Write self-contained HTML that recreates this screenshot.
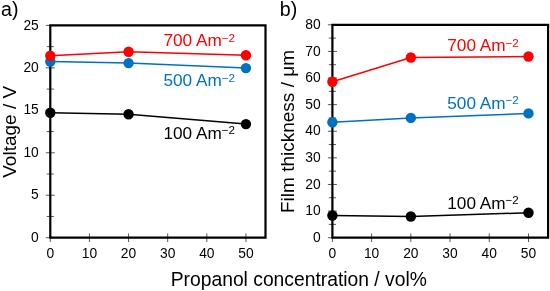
<!DOCTYPE html>
<html><head><meta charset="utf-8"><style>
html,body{margin:0;padding:0;background:#fff;}
svg{display:block;will-change:transform;font-family:"Liberation Sans",sans-serif;}
</style></head><body>
<svg width="550" height="291" viewBox="0 0 550 291">
<rect width="550" height="291" fill="#fff"/>
<text x="1.0" y="16.0" font-size="19.6">a)</text>
<text x="279.8" y="15.9" font-size="19.6">b)</text>
<text transform="translate(16,131.8) rotate(-90)" text-anchor="middle" font-size="19">Voltage / V</text>
<text transform="translate(294,131.5) rotate(-90)" text-anchor="middle" font-size="19">Film thickness / μm</text>
<text x="298.8" y="285.6" text-anchor="middle" font-size="19.3">Propanol concentration / vol%</text>
<line x1="45.80" y1="237.70" x2="54.80" y2="237.70" stroke="#5a5a5a" stroke-width="1"/>
<text x="38.8" y="241.80" text-anchor="end" font-size="13.8">0</text>
<line x1="46.70" y1="216.47" x2="53.90" y2="216.47" stroke="#5a5a5a" stroke-width="1"/>
<line x1="45.80" y1="195.24" x2="54.80" y2="195.24" stroke="#5a5a5a" stroke-width="1"/>
<text x="38.8" y="199.34" text-anchor="end" font-size="13.8">5</text>
<line x1="46.70" y1="174.01" x2="53.90" y2="174.01" stroke="#5a5a5a" stroke-width="1"/>
<line x1="45.80" y1="152.78" x2="54.80" y2="152.78" stroke="#5a5a5a" stroke-width="1"/>
<text x="38.8" y="156.88" text-anchor="end" font-size="13.8">10</text>
<line x1="46.70" y1="131.55" x2="53.90" y2="131.55" stroke="#5a5a5a" stroke-width="1"/>
<line x1="45.80" y1="110.32" x2="54.80" y2="110.32" stroke="#5a5a5a" stroke-width="1"/>
<text x="38.8" y="114.42" text-anchor="end" font-size="13.8">15</text>
<line x1="46.70" y1="89.09" x2="53.90" y2="89.09" stroke="#5a5a5a" stroke-width="1"/>
<line x1="45.80" y1="67.86" x2="54.80" y2="67.86" stroke="#5a5a5a" stroke-width="1"/>
<text x="38.8" y="71.96" text-anchor="end" font-size="13.8">20</text>
<line x1="46.70" y1="46.63" x2="53.90" y2="46.63" stroke="#5a5a5a" stroke-width="1"/>
<line x1="45.80" y1="25.40" x2="54.80" y2="25.40" stroke="#5a5a5a" stroke-width="1"/>
<text x="38.8" y="29.50" text-anchor="end" font-size="13.8">25</text>
<line x1="50.30" y1="233.40" x2="50.30" y2="242.00" stroke="#5a5a5a" stroke-width="1"/>
<text x="50.30" y="257.80" text-anchor="middle" font-size="13.8">0</text>
<line x1="89.43" y1="233.40" x2="89.43" y2="242.00" stroke="#5a5a5a" stroke-width="1"/>
<text x="89.43" y="257.80" text-anchor="middle" font-size="13.8">10</text>
<line x1="128.55" y1="233.40" x2="128.55" y2="242.00" stroke="#5a5a5a" stroke-width="1"/>
<text x="128.55" y="257.80" text-anchor="middle" font-size="13.8">20</text>
<line x1="167.68" y1="233.40" x2="167.68" y2="242.00" stroke="#5a5a5a" stroke-width="1"/>
<text x="167.68" y="257.80" text-anchor="middle" font-size="13.8">30</text>
<line x1="206.81" y1="233.40" x2="206.81" y2="242.00" stroke="#5a5a5a" stroke-width="1"/>
<text x="206.81" y="257.80" text-anchor="middle" font-size="13.8">40</text>
<line x1="245.94" y1="233.40" x2="245.94" y2="242.00" stroke="#5a5a5a" stroke-width="1"/>
<text x="245.94" y="257.80" text-anchor="middle" font-size="13.8">50</text>
<path d="M50.30 25.40 H265.50 V237.70 H50.30 Z" fill="none" stroke="#000" stroke-width="2.2"/>
<path d="M50.30 112.70 L128.55 114.23 L245.94 124.08" fill="none" stroke="#000000" stroke-width="1.5"/>
<path d="M50.30 61.49 L128.55 63.10 L245.94 68.11" fill="none" stroke="#0070C0" stroke-width="1.5"/>
<path d="M50.30 55.72 L128.55 51.73 L245.94 55.29" fill="none" stroke="#FF0000" stroke-width="1.5"/>
<circle cx="50.30" cy="112.70" r="5.2" fill="#000000"/>
<circle cx="128.55" cy="114.23" r="5.2" fill="#000000"/>
<circle cx="245.94" cy="124.08" r="5.2" fill="#000000"/>
<circle cx="50.30" cy="61.49" r="5.2" fill="#0070C0"/>
<circle cx="128.55" cy="63.10" r="5.2" fill="#0070C0"/>
<circle cx="245.94" cy="68.11" r="5.2" fill="#0070C0"/>
<circle cx="50.30" cy="55.72" r="5.2" fill="#FF0000"/>
<circle cx="128.55" cy="51.73" r="5.2" fill="#FF0000"/>
<circle cx="245.94" cy="55.29" r="5.2" fill="#FF0000"/>
<text x="163.5" y="46.1" fill="#FF0000" font-size="17.2">700 Am<tspan font-size="11.6" dy="-4.4">−2</tspan></text>
<text x="163.5" y="86.3" fill="#0070C0" font-size="17.2">500 Am<tspan font-size="11.6" dy="-4.4">−2</tspan></text>
<text x="163.5" y="138.8" fill="#000000" font-size="17.2">100 Am<tspan font-size="11.6" dy="-4.4">−2</tspan></text>
<line x1="327.90" y1="237.70" x2="336.90" y2="237.70" stroke="#5a5a5a" stroke-width="1"/>
<text x="320.6" y="241.80" text-anchor="end" font-size="13.8">0</text>
<line x1="328.80" y1="224.39" x2="336.00" y2="224.39" stroke="#5a5a5a" stroke-width="1"/>
<line x1="327.90" y1="211.09" x2="336.90" y2="211.09" stroke="#5a5a5a" stroke-width="1"/>
<text x="320.6" y="215.19" text-anchor="end" font-size="13.8">10</text>
<line x1="328.80" y1="197.78" x2="336.00" y2="197.78" stroke="#5a5a5a" stroke-width="1"/>
<line x1="327.90" y1="184.47" x2="336.90" y2="184.47" stroke="#5a5a5a" stroke-width="1"/>
<text x="320.6" y="188.57" text-anchor="end" font-size="13.8">20</text>
<line x1="328.80" y1="171.17" x2="336.00" y2="171.17" stroke="#5a5a5a" stroke-width="1"/>
<line x1="327.90" y1="157.86" x2="336.90" y2="157.86" stroke="#5a5a5a" stroke-width="1"/>
<text x="320.6" y="161.96" text-anchor="end" font-size="13.8">30</text>
<line x1="328.80" y1="144.56" x2="336.00" y2="144.56" stroke="#5a5a5a" stroke-width="1"/>
<line x1="327.90" y1="131.25" x2="336.90" y2="131.25" stroke="#5a5a5a" stroke-width="1"/>
<text x="320.6" y="135.35" text-anchor="end" font-size="13.8">40</text>
<line x1="328.80" y1="117.94" x2="336.00" y2="117.94" stroke="#5a5a5a" stroke-width="1"/>
<line x1="327.90" y1="104.64" x2="336.90" y2="104.64" stroke="#5a5a5a" stroke-width="1"/>
<text x="320.6" y="108.74" text-anchor="end" font-size="13.8">50</text>
<line x1="328.80" y1="91.33" x2="336.00" y2="91.33" stroke="#5a5a5a" stroke-width="1"/>
<line x1="327.90" y1="78.03" x2="336.90" y2="78.03" stroke="#5a5a5a" stroke-width="1"/>
<text x="320.6" y="82.12" text-anchor="end" font-size="13.8">60</text>
<line x1="328.80" y1="64.72" x2="336.00" y2="64.72" stroke="#5a5a5a" stroke-width="1"/>
<line x1="327.90" y1="51.41" x2="336.90" y2="51.41" stroke="#5a5a5a" stroke-width="1"/>
<text x="320.6" y="55.51" text-anchor="end" font-size="13.8">70</text>
<line x1="328.80" y1="38.11" x2="336.00" y2="38.11" stroke="#5a5a5a" stroke-width="1"/>
<line x1="327.90" y1="24.80" x2="336.90" y2="24.80" stroke="#5a5a5a" stroke-width="1"/>
<text x="320.6" y="28.90" text-anchor="end" font-size="13.8">80</text>
<line x1="332.40" y1="233.40" x2="332.40" y2="242.00" stroke="#5a5a5a" stroke-width="1"/>
<text x="332.40" y="257.80" text-anchor="middle" font-size="13.8">0</text>
<line x1="371.62" y1="233.40" x2="371.62" y2="242.00" stroke="#5a5a5a" stroke-width="1"/>
<text x="371.62" y="257.80" text-anchor="middle" font-size="13.8">10</text>
<line x1="410.84" y1="233.40" x2="410.84" y2="242.00" stroke="#5a5a5a" stroke-width="1"/>
<text x="410.84" y="257.80" text-anchor="middle" font-size="13.8">20</text>
<line x1="450.05" y1="233.40" x2="450.05" y2="242.00" stroke="#5a5a5a" stroke-width="1"/>
<text x="450.05" y="257.80" text-anchor="middle" font-size="13.8">30</text>
<line x1="489.27" y1="233.40" x2="489.27" y2="242.00" stroke="#5a5a5a" stroke-width="1"/>
<text x="489.27" y="257.80" text-anchor="middle" font-size="13.8">40</text>
<line x1="528.49" y1="233.40" x2="528.49" y2="242.00" stroke="#5a5a5a" stroke-width="1"/>
<text x="528.49" y="257.80" text-anchor="middle" font-size="13.8">50</text>
<path d="M332.40 24.80 H548.10 V237.70 H332.40 Z" fill="none" stroke="#000" stroke-width="2.2"/>
<path d="M332.40 215.48 L410.84 216.54 L528.49 212.76" fill="none" stroke="#000000" stroke-width="1.5"/>
<path d="M332.40 122.20 L410.84 117.94 L528.49 113.42" fill="none" stroke="#0070C0" stroke-width="1.5"/>
<path d="M332.40 81.75 L410.84 57.53 L528.49 56.47" fill="none" stroke="#FF0000" stroke-width="1.5"/>
<circle cx="332.40" cy="215.48" r="5.2" fill="#000000"/>
<circle cx="410.84" cy="216.54" r="5.2" fill="#000000"/>
<circle cx="528.49" cy="212.76" r="5.2" fill="#000000"/>
<circle cx="332.40" cy="122.20" r="5.2" fill="#0070C0"/>
<circle cx="410.84" cy="117.94" r="5.2" fill="#0070C0"/>
<circle cx="528.49" cy="113.42" r="5.2" fill="#0070C0"/>
<circle cx="332.40" cy="81.75" r="5.2" fill="#FF0000"/>
<circle cx="410.84" cy="57.53" r="5.2" fill="#FF0000"/>
<circle cx="528.49" cy="56.47" r="5.2" fill="#FF0000"/>
<text x="447.3" y="51.3" fill="#FF0000" font-size="17.2">700 Am<tspan font-size="11.6" dy="-4.4">−2</tspan></text>
<text x="447.3" y="108.7" fill="#0070C0" font-size="17.2">500 Am<tspan font-size="11.6" dy="-4.4">−2</tspan></text>
<text x="447.3" y="208.7" fill="#000000" font-size="17.2">100 Am<tspan font-size="11.6" dy="-4.4">−2</tspan></text>
</svg>
</body></html>
